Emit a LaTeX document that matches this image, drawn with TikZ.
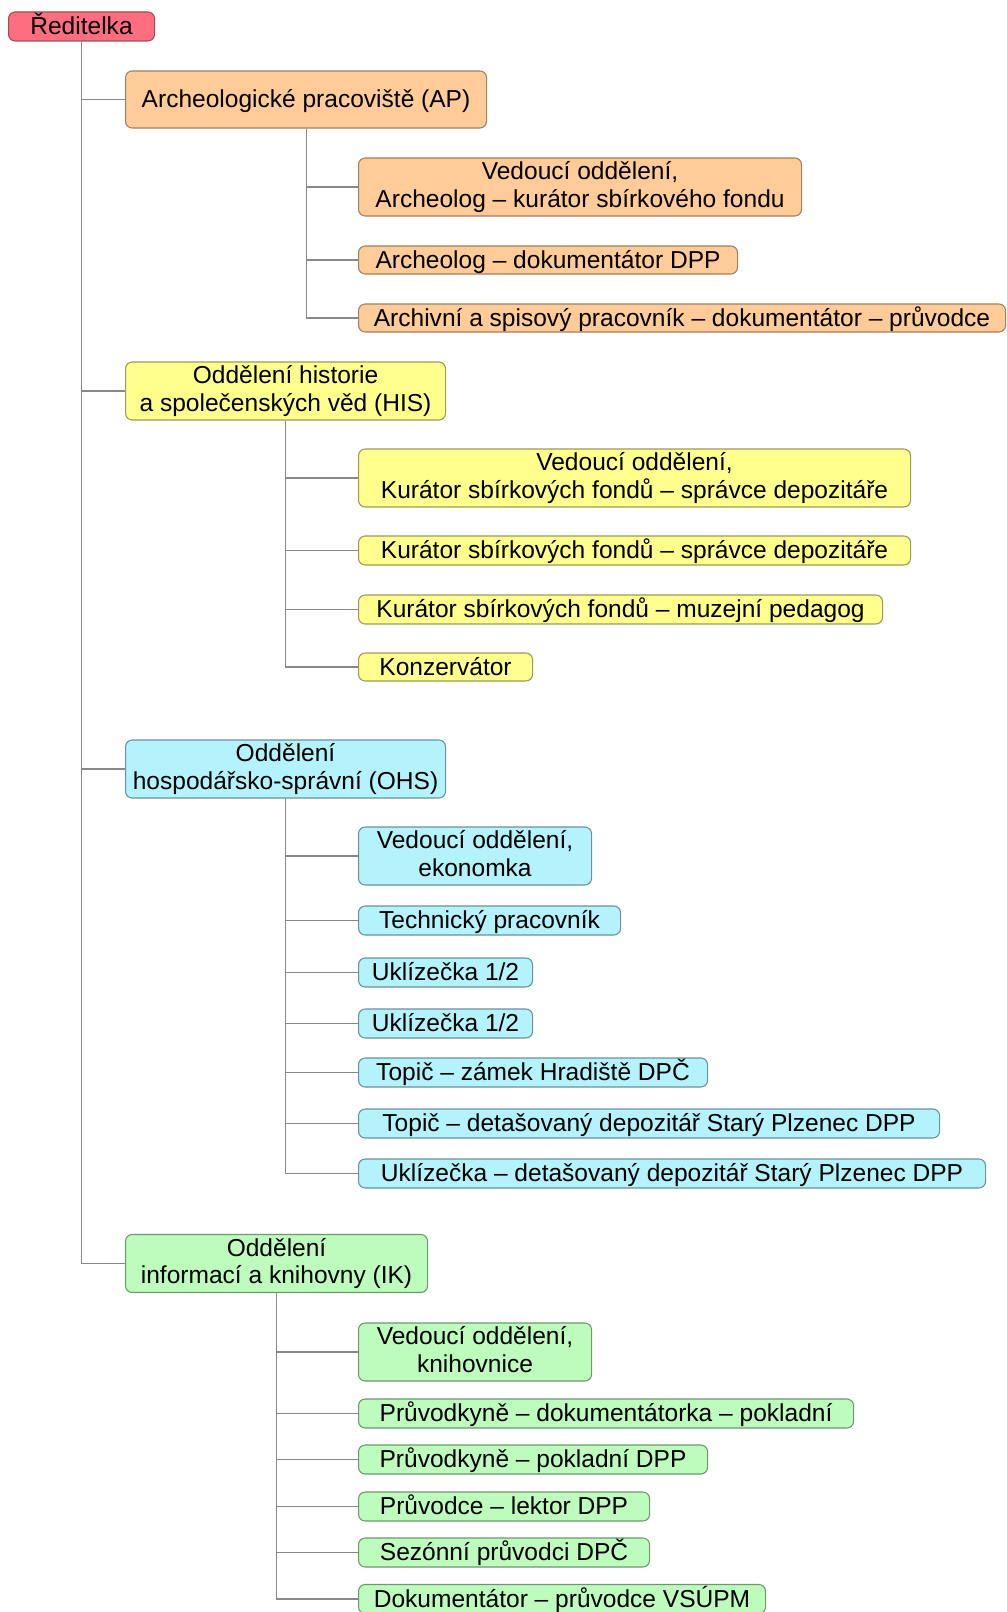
\documentclass[tikz,border=0pt]{standalone}
\usepackage{fontspec}
\setmainfont{Liberation Sans}
\definecolor{redF}{HTML}{FF6E80}
\definecolor{redD}{HTML}{A04A56}
\definecolor{orF}{HTML}{FFCB98}
\definecolor{orD}{HTML}{A08060}
\definecolor{yeF}{HTML}{FFFF8E}
\definecolor{yeD}{HTML}{9A9A5A}
\definecolor{cyF}{HTML}{B4F2FC}
\definecolor{cyD}{HTML}{6A929A}
\definecolor{grF}{HTML}{BDFCBD}
\definecolor{grD}{HTML}{6A9A6A}
\definecolor{lineC}{HTML}{888888}
\tikzset{
  orgbox/.style={draw, line width=0.8pt, rounded corners=5pt, inner sep=0pt, align=center, anchor=west,
     font=\fontsize{18.4}{20.8}\selectfont,
     execute at begin node={\rule{0pt}{16.6pt}},
     execute at end node={\rule[-4.0pt]{0pt}{0pt}}},
  twoline/.style={execute at begin node={\rule{0pt}{17.8pt}}},
  w/.style={minimum width=#1*0.75pt},
  h/.style={minimum height=#1*0.75pt},
  redbox/.style={orgbox, fill=redF, draw=redD},
  orbox/.style={orgbox, fill=orF, draw=orD},
  yebox/.style={orgbox, fill=yeF, draw=yeD},
  cybox/.style={orgbox, fill=cyF, draw=cyD},
  grbox/.style={orgbox, fill=grF, draw=grD},
  conn/.style={draw=lineC, line width=0.8pt}
}
\begin{document}
\begin{tikzpicture}[x=0.75pt,y=-0.75pt]
\useasboundingbox[fill=white] (0,0) rectangle (1006,1612);
% director
\node[redbox, w=146, h=29] (red) at (8,26.5) {Ředitelka};
% AP
\node[orbox, w=361, h=57] (ap) at (125,99.5) {Archeologické pracoviště (AP)};
\node[orbox, twoline, w=443, h=58] (ap1) at (358,187) {Vedoucí oddělení,\\Archeolog – kurátor sbírkového fondu};
\node[orbox, w=379, h=28] (ap2) at (358,260) {Archeolog – dokumentátor DPP};
\node[orbox, w=647, h=28] (ap3) at (358,318) {Archivní a spisový pracovník – dokumentátor – průvodce};
% HIS
\node[yebox, twoline, w=320, h=58] (his) at (125,391) {Oddělení historie\\a společenských věd (HIS)};
\node[yebox, twoline, w=552, h=58] (his1) at (358,478) {Vedoucí oddělení,\\Kurátor sbírkových fondů – správce depozitáře};
\node[yebox, w=552, h=29] (his2) at (358,550.5) {Kurátor sbírkových fondů – správce depozitáře};
\node[yebox, w=524, h=29] (his3) at (358,609.5) {Kurátor sbírkových fondů – muzejní pedagog};
\node[yebox, w=174, h=28] (his4) at (358,667) {Konzervátor};
% OHS
\node[cybox, twoline, w=320, h=58] (ohs) at (125,769) {Oddělení\\hospodářsko-správní (OHS)};
\node[cybox, twoline, w=233, h=58] (o1) at (358,856) {Vedoucí oddělení,\\ekonomka};
\node[cybox, w=262, h=29] (o2) at (358,920.5) {Technický pracovník};
\node[cybox, w=174, h=29] (o3) at (358,972.5) {Uklízečka 1/2};
\node[cybox, w=174, h=29] (o4) at (358,1023.5) {Uklízečka 1/2};
\node[cybox, w=349, h=29] (o5) at (358,1072.5) {Topič – zámek Hradiště DPČ};
\node[cybox, w=581, h=29] (o6) at (358,1123.5) {Topič – detašovaný depozitář Starý Plzenec DPP};
\node[cybox, w=627, h=29] (o7) at (358,1173.5) {Uklízečka – detašovaný depozitář Starý Plzenec DPP};
% IK
\node[grbox, twoline, w=302, h=58] (ik) at (125,1263.5) {Oddělení\\informací a knihovny (IK)};
\node[grbox, twoline, w=233, h=58] (k1) at (358,1352) {Vedoucí oddělení,\\knihovnice};
\node[grbox, w=495, h=29] (k2) at (358,1413.5) {Průvodkyně – dokumentátorka – pokladní};
\node[grbox, w=349, h=29] (k3) at (358,1459.5) {Průvodkyně – pokladní DPP};
\node[grbox, w=291, h=29] (k4) at (358,1506.5) {Průvodce – lektor DPP};
\node[grbox, w=291, h=29] (k5) at (358,1552.5) {Sezónní průvodci DPČ};
\node[grbox, w=407, h=29] (k6) at (358,1599) {Dokumentátor – průvodce VSÚPM};
% connectors
\foreach \t in {ap,his,ohs,ik} \draw[conn] (red.south) |- (\t.west);
\foreach \t in {ap1,ap2,ap3} \draw[conn] (ap.south) |- (\t.west);
\foreach \t in {his1,his2,his3,his4} \draw[conn] (his.south) |- (\t.west);
\foreach \t in {o1,o2,o3,o4,o5,o6,o7} \draw[conn] (ohs.south) |- (\t.west);
\foreach \t in {k1,k2,k3,k4,k5,k6} \draw[conn] (ik.south) |- (\t.west);
\end{tikzpicture}
\end{document}
